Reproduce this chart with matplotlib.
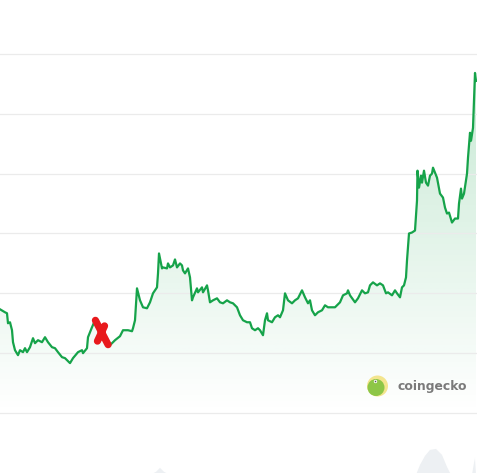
import numpy as np
import matplotlib
matplotlib.use("Agg")
import matplotlib.pyplot as plt
from matplotlib.patches import PathPatch, Ellipse
from matplotlib.path import Path
from matplotlib.markers import MarkerStyle

# price series (x = day index, y = price units, grid every 60)
day = [0, 5, 7, 8, 10, 12, 13, 15, 18, 20, 23, 25, 27, 30, 33, 35, 38, 42, 45, 48,
       52, 55, 58, 62, 65, 70, 73, 78, 82, 83, 87, 88, 92, 95, 100, 105, 110, 115, 120, 123,
       128, 132, 133, 135, 137, 140, 143, 147, 150, 153, 157, 158, 159, 162, 163, 167, 168, 170, 173, 175,
       177, 180, 182, 183, 185, 188, 190, 192, 193, 197, 198, 202, 203, 207, 208, 210, 213, 217, 220, 223,
       227, 230, 233, 237, 240, 243, 247, 250, 252, 255, 258, 260, 263, 265, 267, 268, 272, 275, 278, 280,
       283, 285, 288, 292, 295, 298, 302, 305, 308, 310, 312, 315, 318, 322, 325, 328, 332, 335, 340, 343,
       347, 348, 350, 355, 358, 362, 365, 368, 370, 373, 377, 380, 383, 386, 388, 392, 395, 397, 400, 402,
       404, 406, 407, 408, 409, 412, 415, 417, 417.5, 419, 421, 422, 424, 426, 428, 430, 432, 433, 437, 440,
       443, 445, 447, 449, 452, 455, 458, 459, 461, 462, 464, 467, 468, 470, 471, 473, 474, 475, 476]
price = [104, 101, 100, 90, 91, 83, 71, 63, 58, 63, 61, 65, 61, 66, 75, 70, 73, 71, 76, 71,
         66, 65, 61, 56, 55, 50, 55, 61, 63, 60, 65, 76, 86, 93, 83, 73, 68, 73, 77, 83,
         83, 82, 85, 93, 125, 113, 106, 105, 111, 120, 126, 140, 160, 145, 146, 145, 150, 146, 148, 154,
         146, 150, 148, 143, 140, 145, 136, 113, 116, 125, 121, 126, 121, 128, 123, 111, 113, 115, 111, 110,
         113, 111, 110, 106, 98, 93, 91, 91, 85, 83, 85, 83, 78, 93, 100, 93, 91, 96, 98, 96,
         103, 120, 113, 110, 113, 115, 123, 116, 110, 113, 103, 98, 101, 103, 108, 106, 106, 106, 111, 118,
         120, 123, 118, 111, 115, 123, 120, 121, 128, 131, 128, 130, 128, 120, 121, 118, 123, 120, 116, 126,
         128, 136, 153, 166, 180, 181, 183, 213, 243, 226, 238, 231, 243, 231, 228, 238, 240, 246, 236, 220,
         216, 206, 200, 201, 191, 195, 195, 210, 225, 215, 220, 240, 256, 281, 273, 286, 313, 341, 333]

# hand drawn cross
mark_day = [101]
mark_price = [81.5]

# faint navigator strip at the bottom
nav_day = [0, 150, 156, 160, 164, 170, 416, 420, 425, 430, 436, 442, 447, 451, 472, 474, 475, 476, 480]
nav_price = [-62, -62, -59, -55, -59, -62, -62, -52, -43, -37, -36, -42, -54, -62, -62, -50, -45, -62, -62]

grid_vals = [0, 60, 120, 180, 240, 300, 360]

green = "#16a34a"

fig = plt.figure(figsize=(4.8, 4.73), dpi=100)
ax = fig.add_axes([0, 0, 477 / 480, 1])

x = np.array(day, dtype=float)
y = np.array(price, dtype=float)

# navigator
ax.fill_between(nav_day, nav_price, -62, color="#edf0f3", lw=0, zorder=0)

# gradient under the line
poly = ax.fill_between(x, y, 0, color="none", lw=0)
clip = PathPatch(poly.get_paths()[0], facecolor="none", edgecolor="none", transform=ax.transData)
ax.add_patch(clip)
grad = np.zeros((256, 1, 4))
rgb = matplotlib.colors.to_rgb(green)
grad[:, 0, 0], grad[:, 0, 1], grad[:, 0, 2] = rgb
grad[:, 0, 3] = np.linspace(0.0, 0.25, 256)
im = ax.imshow(grad, extent=[0, 477, 0, 360], aspect="auto", origin="lower", zorder=1)
im.set_clip_path(clip)

ax.plot(x, y, color=green, lw=1.6, zorder=3, solid_joinstyle="round")

# red cross
cross = Path([(-6, 12), (6.5, -12), (3, 6.5), (-4, -8.5)],
             [Path.MOVETO, Path.LINETO, Path.MOVETO, Path.LINETO])
ax.plot(mark_day, mark_price, ls="none", marker=MarkerStyle(cross, capstyle="round"),
        ms=17.5, mew=5.2, mec="#e8191c", zorder=4)

ax.set_xlim(0, 477)
ax.set_ylim(-60.17, 414.15)
ax.set_yticks(grid_vals)
ax.set_xticks([])
ax.grid(axis="y", color="#ebebeb", lw=0.9)
ax.tick_params(left=False, labelleft=False)
for s in ax.spines.values():
    s.set_visible(False)

# coingecko watermark
fig.patches.append(Ellipse((377.5 / 480, 87 / 473), 21 / 480, 21 / 473, transform=fig.transFigure,
                           facecolor="#f3e58e", edgecolor="none", zorder=5))
fig.patches.append(Ellipse((376 / 480, 85.5 / 473), 17 / 480, 17 / 473, transform=fig.transFigure,
                           facecolor="#8dc647", edgecolor="none", zorder=6))
fig.patches.append(Ellipse((375.5 / 480, 91.5 / 473), 3.4 / 480, 3.4 / 473, transform=fig.transFigure,
                           facecolor="white", edgecolor="none", zorder=7))
fig.patches.append(Ellipse((375.5 / 480, 91.5 / 473), 1.6 / 480, 1.6 / 473, transform=fig.transFigure,
                           facecolor="#555555", edgecolor="none", zorder=8))
fig.text(397 / 480, 87 / 473, "coingecko", ha="left", va="center", fontsize=8.9,
         weight="bold", color="#7a7a7a")

fig.savefig("out.png", dpi=100, facecolor="white")
